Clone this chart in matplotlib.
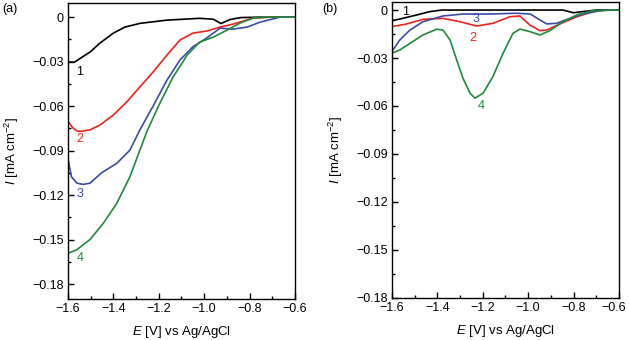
import matplotlib
matplotlib.use('Agg')
import matplotlib.pyplot as plt
import matplotlib.transforms as mtransforms
from matplotlib.ticker import FuncFormatter, MultipleLocator

plt.rcParams.update({
    'font.family': 'Liberation Sans',
    'font.size': 9,
    'mathtext.fontset': 'custom',
    'mathtext.rm': 'Liberation Sans',
    'mathtext.it': 'Liberation Sans:italic',
})

# ── Painel (a) ──
a1_E = [-1.6, -1.57, -1.538, -1.503, -1.459, -1.40, -1.349, -1.283, -1.164, -1.02, -0.96, -0.926, -0.886, -0.84, -0.75, -0.6]
a1_I = [-0.0303, -0.0303, -0.027, -0.0236, -0.0175, -0.0108, -0.0067, -0.0042, -0.002, -0.0008, -0.0014, -0.0043, -0.0016, -0.0003, 0.0, 0.0]

a2_E = [-1.6, -1.58, -1.56, -1.54, -1.503, -1.459, -1.40, -1.34, -1.283, -1.225, -1.164, -1.107, -1.05, -0.99, -0.93, -0.873, -0.785, -0.70, -0.6]
a2_I = [-0.070, -0.0745, -0.0768, -0.077, -0.076, -0.0728, -0.066, -0.057, -0.047, -0.037, -0.0256, -0.0155, -0.0108, -0.0094, -0.0067, -0.0047, -0.0007, 0.0, 0.0]

a3_E = [-1.6, -1.585, -1.56, -1.533, -1.503, -1.452, -1.385, -1.327, -1.283, -1.225, -1.164, -1.107, -1.05, -0.99, -0.93, -0.873, -0.81, -0.754, -0.666, -0.6]
a3_I = [-0.0953, -0.1076, -0.112, -0.1128, -0.112, -0.105, -0.0986, -0.0897, -0.076, -0.060, -0.0425, -0.029, -0.020, -0.0142, -0.0074, -0.0081, -0.0067, -0.0034, 0.0, 0.0]

a4_E = [-1.6, -1.562, -1.503, -1.444, -1.385, -1.327, -1.283, -1.252, -1.195, -1.137, -1.075, -1.02, -0.96, -0.90, -0.842, -0.785, -0.73, -0.6]
a4_I = [-0.1593, -0.157, -0.150, -0.139, -0.1256, -0.1076, -0.0897, -0.077, -0.058, -0.0404, -0.0256, -0.0168, -0.0135, -0.0088, -0.0040, -0.0007, 0.0, 0.0]

# ── Painel (b) ──
b1_E = [-1.6, -1.552, -1.491, -1.433, -1.38, -1.0, -0.847, -0.80, -0.75, -0.70, -0.6]
b1_I = [-0.0067, -0.0052, -0.0031, -0.001, 0.0, 0.0, 0.0, -0.0017, -0.0008, 0.0, 0.0]

b2_E = [-1.6, -1.535, -1.463, -1.375, -1.30, -1.227, -1.155, -1.08, -1.036, -0.992, -0.948, -0.918, -0.86, -0.786, -0.713, -0.65, -0.6]
b2_I = [-0.0104, -0.0087, -0.0058, -0.0052, -0.0073, -0.010, -0.0083, -0.0042, -0.0037, -0.0094, -0.0129, -0.0125, -0.0087, -0.0042, -0.001, 0.0, 0.0]

b3_E = [-1.6, -1.565, -1.52, -1.463, -1.375, -1.287, -1.168, -1.05, -0.99, -0.948, -0.918, -0.874, -0.816, -0.758, -0.67, -0.6]
b3_I = [-0.026, -0.0187, -0.0125, -0.0073, -0.0037, -0.0025, -0.0025, -0.002, -0.0025, -0.0062, -0.0087, -0.0083, -0.0052, -0.0025, 0.0, 0.0]

b4_E = [-1.6, -1.565, -1.52, -1.463, -1.403, -1.375, -1.344, -1.315, -1.287, -1.256, -1.234, -1.198, -1.155, -1.11, -1.067, -1.036, -0.992, -0.948, -0.904, -0.846, -0.786, -0.72, -0.6]
b4_I = [-0.027, -0.025, -0.0208, -0.0156, -0.012, -0.0125, -0.0187, -0.031, -0.0426, -0.052, -0.0551, -0.052, -0.0416, -0.027, -0.0146, -0.0119, -0.0135, -0.0156, -0.0129, -0.0073, -0.0031, -0.0005, 0.0]

colors = ['black', '#f0221e', '#3a4ca8', '#1e8a3a']
a_labels = [(-1.547, -0.037), (-1.547, -0.082), (-1.547, -0.119), (-1.547, -0.1625)]
b_labels = [(-1.54, -0.0015), (-1.242, -0.0173), (-1.231, -0.0058), (-1.205, -0.060)]


def fmt_y(v, pos):
    if abs(v) < 1e-9:
        return '0'
    return f'{v:.2f}'.replace('-', '\u2212')


def fmt_x(v, pos):
    return f'{v:.1f}'.replace('-', '\u2212')


def style(ax, ylim):
    ax.set_xlim(-1.6, -0.6)
    ax.set_ylim(*ylim)
    ax.xaxis.set_major_locator(MultipleLocator(0.2))
    ax.xaxis.set_minor_locator(MultipleLocator(0.1))
    ax.yaxis.set_major_locator(MultipleLocator(0.03))
    ax.yaxis.set_minor_locator(MultipleLocator(0.015))
    ax.xaxis.set_major_formatter(FuncFormatter(fmt_x))
    ax.yaxis.set_major_formatter(FuncFormatter(fmt_y))
    ax.tick_params(which='both', direction='in', top=False, right=False, width=1.0, pad=3)
    ax.tick_params(which='major', length=4)
    ax.tick_params(which='minor', length=2.5)
    for s in ax.spines.values():
        s.set_linewidth(1.0)
    ax.set_xlabel(r'$E$ [V] vs Ag/AgCl', fontsize=9.5)
    ax.set_ylabel(r'$I$ [mA cm$^{-2}$]', fontsize=9.5)
    ax.yaxis.set_label_coords(-0.205, 0.5)
    ax.xaxis.set_label_coords(0.5, -0.085)


fig = plt.figure(figsize=(6.29, 3.40), dpi=100)
axA = fig.add_axes([0.108, 0.121, 0.361, 0.870])
axB = fig.add_axes([0.623, 0.124, 0.361, 0.870])

for E, I, c in zip([a1_E, a2_E, a3_E, a4_E], [a1_I, a2_I, a3_I, a4_I], colors):
    axA.plot(E, I, color=c, linewidth=1.2)
for (x, y), c, t in zip(a_labels, colors, ['1', '2', '3', '4']):
    axA.text(x, y, t, color=c, fontsize=9, ha='center', va='center')
style(axA, (-0.19, 0.0095))

for E, I, c in zip([b1_E, b2_E, b3_E, b4_E], [b1_I, b2_I, b3_I, b4_I], colors):
    axB.plot(E, I, color=c, linewidth=1.2)
for (x, y), c, t in zip(b_labels, colors, ['1', '2', '3', '4']):
    axB.text(x, y, t, color=c, fontsize=9, ha='center', va='center')
style(axB, (-0.18, 0.005))

# o último rótulo do eixo x em (b) fica junto à borda: desloca um pouco
fig.canvas.draw()
last = [lb for lb in axB.get_xticklabels() if lb.get_text() == '\u22120.6'][-1]
last.set_transform(last.get_transform() + mtransforms.ScaledTranslation(-4 / 72, 0, fig.dpi_scale_trans))

fig.text(0.003, 0.973, '(a)', fontsize=9, va='center', ha='left')
fig.text(0.513, 0.973, '(b)', fontsize=9, va='center', ha='left')

fig.savefig('out.png', dpi=100)
plt.close()
